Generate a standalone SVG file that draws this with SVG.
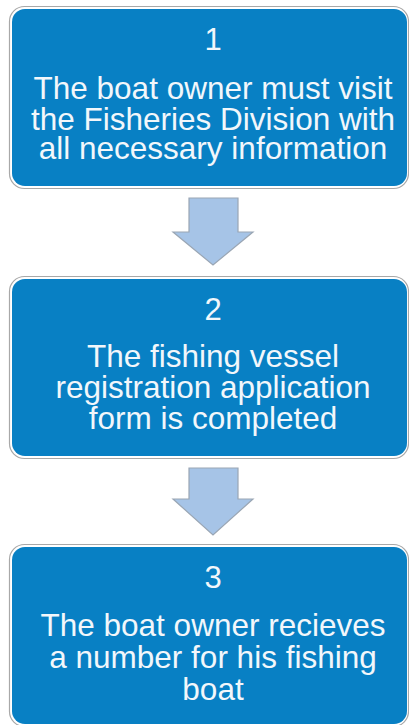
<svg xmlns="http://www.w3.org/2000/svg" width="409" height="725" viewBox="0 0 409 725">
<style>
.frame{fill:#ffffff;stroke:#a8a8a8;stroke-width:1.2}
.box{fill:#0880C4}
.num{font-family:"Liberation Sans",Arial,sans-serif;font-size:31px;fill:#F2F7FB;text-anchor:middle}
.txt{font-family:"Liberation Sans",Arial,sans-serif;font-size:31.5px;fill:#F2F7FB;text-anchor:middle}
.arr{fill:#A6C4E7;stroke:#9AA6B4;stroke-width:1.2;stroke-linejoin:miter}
</style>
<rect width="409" height="725" fill="#ffffff"/>
<g id="step1">
<rect class="frame" x="9.5" y="6.5" width="399" height="182" rx="15"/>
<rect class="box" x="12" y="9" width="395" height="177" rx="13"/>
<text class="num" x="213" y="50">1</text>
<text class="txt" x="213" y="99">The boat owner must visit</text>
<text class="txt" x="213" y="130">the Fisheries Division with</text>
<text class="txt" x="213" y="159">all necessary information</text>
</g>
<g id="step2">
<rect class="frame" x="9.5" y="276.5" width="399" height="182" rx="15"/>
<rect class="box" x="12" y="279" width="395" height="177" rx="13"/>
<text class="num" x="213" y="320">2</text>
<text class="txt" x="213" y="367">The fishing vessel</text>
<text class="txt" x="213" y="398">registration application</text>
<text class="txt" x="213" y="429">form is completed</text>
</g>
<g id="step3">
<rect class="frame" x="9.5" y="544.5" width="399" height="182" rx="15"/>
<rect class="box" x="12" y="547" width="395" height="177" rx="13"/>
<text class="num" x="213" y="588">3</text>
<text class="txt" x="213" y="636">The boat owner recieves</text>
<text class="txt" x="213" y="668">a number for his fishing</text>
<text class="txt" x="213" y="700">boat</text>
</g>
<g id="connectors">
<polygon class="arr" points="189,198 238,198 238,232 253,232 213,265 173,232 189,232"/>
<polygon class="arr" points="189,468 238,468 238,499 253,499 213,535 173,499 189,499"/>
</g>
</svg>
